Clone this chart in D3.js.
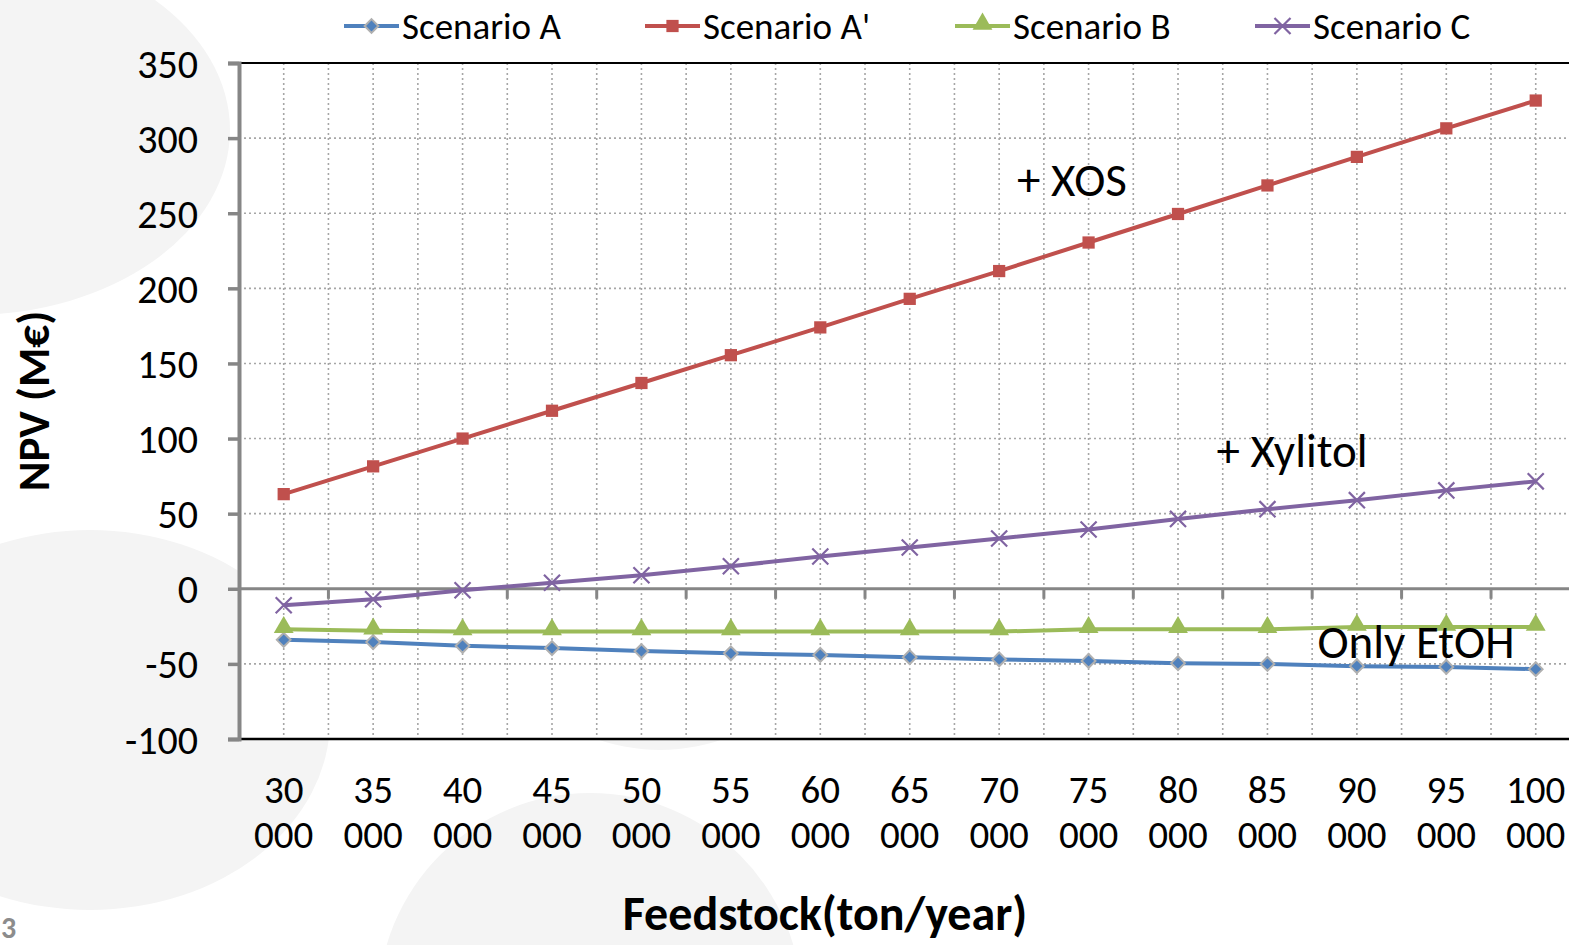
<!DOCTYPE html>
<html>
<head>
<meta charset="utf-8">
<script src="https://cdn.jsdelivr.net/npm/d3@7"></script>
<style>
  body { margin: 0; background: #fff; }
  svg { display: block; font-family: Carlito, Lato, "Open Sans", sans-serif; }
</style>
</head>
<body>
<svg id="chart" width="1569" height="945"></svg>
<script>
const categories = ['30 000', '35 000', '40 000', '45 000', '50 000', '55 000', '60 000', '65 000',
  '70 000', '75 000', '80 000', '85 000', '90 000', '95 000', '100 000'];
const scenarioA = [-34, -35.5, -38, -39.5, -41.5, -43, -44, -45.5, -47, -48, -49.5, -50, -51.5, -52, -53.5];
const scenarioA2 = [63, 81.5, 100, 118.5, 137, 155.5, 174, 193, 211.5, 230.5, 249.5, 268.5, 287.5, 306.5, 325];
const scenarioB = [-27, -28, -28.5, -28.5, -28.5, -28.5, -28.5, -28.5, -28.5, -27, -27, -27, -25.5, -25.5, -25.5];
const scenarioC = [-11, -7, -1, 4, 9, 15, 21.5, 27.5, 33.5, 39.5, 46.5, 53, 59, 65.5, 71.5];
const yTicks = [-100, -50, 0, 50, 100, 150, 200, 250, 300, 350];
const seriesNames = ['Scenario A', "Scenario A'", 'Scenario B', 'Scenario C'];
const notes = ['+ XOS', '+ Xylitol', 'Only EtOH'];

const series = [
  {name: seriesNames[0], values: scenarioA, color: '#4f81bd', marker: 'diamond'},
  {name: seriesNames[1], values: scenarioA2, color: '#c0504d', marker: 'square'},
  {name: seriesNames[2], values: scenarioB, color: '#9bbb59', marker: 'triangle'},
  {name: seriesNames[3], values: scenarioC, color: '#8064a2', marker: 'cross'}
];

const svg = d3.select('#chart');
const plotL = 239, plotT = 63, plotB = 739;
const step = 89.43;

// decorative background blobs
const bg = svg.append('g').attr('fill', '#f4f4f4');
bg.append('ellipse').attr('cx', -30).attr('cy', 130).attr('rx', 260).attr('ry', 185);
bg.append('ellipse').attr('cx', 90).attr('cy', 720).attr('rx', 240).attr('ry', 190);
bg.append('circle').attr('cx', 590).attr('cy', 1005).attr('r', 212);
bg.append('circle').attr('cx', 660).attr('cy', 560).attr('r', 190);

const x = d3.scaleBand().domain(categories).range([plotL, plotL + step * categories.length]).paddingInner(0).paddingOuter(0);
const bw = x.bandwidth();
const cx = d => x(d) + bw / 2;
const y = d3.scaleLinear().domain([-100, 350]).range([plotB, plotT]);

// plot area
svg.append('rect').attr('x', plotL).attr('y', plotT).attr('width', 1569 - plotL).attr('height', plotB - plotT).attr('fill', '#fff');

// grid
const grid = svg.append('g').attr('stroke', '#a6a6a6').attr('stroke-width', 1.6).attr('stroke-dasharray', '2,3');
grid.selectAll('.hg').data(yTicks.filter(d => d !== 0 && d !== -100 && d !== 350)).join('line')
  .attr('x1', plotL).attr('x2', 1569).attr('y1', d => y(d)).attr('y2', d => y(d));
const vlines = [];
categories.forEach((c, i) => { vlines.push(cx(c)); if (i > 0) vlines.push(x(c)); });
vlines.push(plotL + step * categories.length);
grid.selectAll('.vg').data(vlines).join('line')
  .attr('x1', d => d).attr('x2', d => d).attr('y1', plotT).attr('y2', plotB);

// frame top & bottom
svg.append('line').attr('x1', plotL).attr('x2', 1569).attr('y1', plotT).attr('y2', plotT).attr('stroke', '#000').attr('stroke-width', 2);
svg.append('line').attr('x1', plotL).attr('x2', 1569).attr('y1', plotB).attr('y2', plotB).attr('stroke', '#000').attr('stroke-width', 2.5);

// zero line with ticks
const zero = svg.append('g').attr('stroke', '#868686');
zero.append('line').attr('x1', plotL).attr('x2', 1569).attr('y1', y(0)).attr('y2', y(0)).attr('stroke-width', 3);
zero.selectAll('.zt').data(categories.slice(1)).join('line')
  .attr('x1', d => x(d)).attr('x2', d => x(d)).attr('y1', y(0)).attr('y2', y(0) + 10).attr('stroke-width', 3);

// y axis
const yAxis = svg.append('g').attr('transform', `translate(${plotL},0)`)
  .call(d3.axisLeft(y).tickValues(yTicks).tickSize(11).tickPadding(30).tickFormat(d => String(d)));
yAxis.select('.domain').attr('stroke', '#868686').attr('stroke-width', 4);
yAxis.selectAll('.tick line').attr('stroke', '#868686').attr('stroke-width', 3.5);
yAxis.selectAll('.tick text').attr('font-size', 40).attr('fill', '#000').attr('dy', '0.35em')
  .style('font-family', 'Carlito, Lato, sans-serif');

// x labels
const xl = svg.append('g').attr('font-size', 39).attr('text-anchor', 'middle');
categories.forEach(c => {
  const parts = c.split(' ');
  xl.append('text').attr('x', cx(c)).attr('y', 803).text(parts[0]);
  xl.append('text').attr('x', cx(c)).attr('y', 848).text(parts[1]);
});

// series
const line = d3.line().x((d, i) => cx(categories[i])).y(d => y(d));
const sym = {
  diamond: d3.symbol().type(d3.symbolDiamond2).size(120),
  square: d3.symbol().type(d3.symbolSquare).size(150),
  triangle: d3.symbol().type(d3.symbolTriangle).size(170),
  cross: d3.symbol().type(d3.symbolTimes).size(170)
};
function drawMarker(g, s, px, py) {
  const p = g.append('path').attr('d', sym[s.marker]()).attr('transform', `translate(${px},${py})`);
  if (s.marker === 'cross') p.attr('fill', 'none').attr('stroke', s.color).attr('stroke-width', 2.2);
  else if (s.marker === 'diamond') p.attr('fill', s.color).attr('stroke', '#b0b0b0').attr('stroke-width', 2);
  else p.attr('fill', s.color);
}
series.forEach(s => {
  const g = svg.append('g');
  g.append('path').datum(s.values).attr('d', line).attr('fill', 'none')
    .attr('stroke', s.color).attr('stroke-width', 4).attr('stroke-linejoin', 'round');
  s.values.forEach((v, i) => drawMarker(g, s, cx(categories[i]), y(v) + (s.marker === 'triangle' ? -2 : 0)));
});

// annotations
const ann = svg.append('g').attr('font-size', 47).attr('text-anchor', 'middle');
ann.append('text').attr('x', 1072).attr('y', 196).text(notes[0]);
ann.append('text').attr('x', 1292).attr('y', 467).text(notes[1]);
ann.append('text').attr('x', 1416).attr('y', 658).text(notes[2]);

// legend
const legX = [344, 645, 955, 1255];
series.forEach((s, i) => {
  const g = svg.append('g');
  g.append('line').attr('x1', legX[i]).attr('x2', legX[i] + 55).attr('y1', 26).attr('y2', 26)
    .attr('stroke', s.color).attr('stroke-width', 4);
  drawMarker(g, s, legX[i] + 27.5, 26 + (s.marker === 'triangle' ? -2 : 0));
  g.append('text').attr('x', legX[i] + 58).attr('y', 39).attr('font-size', 37).text(s.name);
});

// axis titles
svg.append('text').attr('x', 825).attr('y', 930).attr('text-anchor', 'middle')
  .attr('font-size', 48).attr('font-weight', 'bold').text('Feedstock(ton/year)');
svg.append('text').attr('transform', 'translate(49,401) rotate(-90)').attr('text-anchor', 'middle')
  .attr('font-size', 45).attr('font-weight', 'bold').text('NPV (M€)');

// slide number
svg.append('text').attr('x', 1).attr('y', 938).attr('font-size', 30).attr('font-weight', 'bold')
  .attr('fill', '#8c8c8c').text('3');
</script>
</body>
</html>
